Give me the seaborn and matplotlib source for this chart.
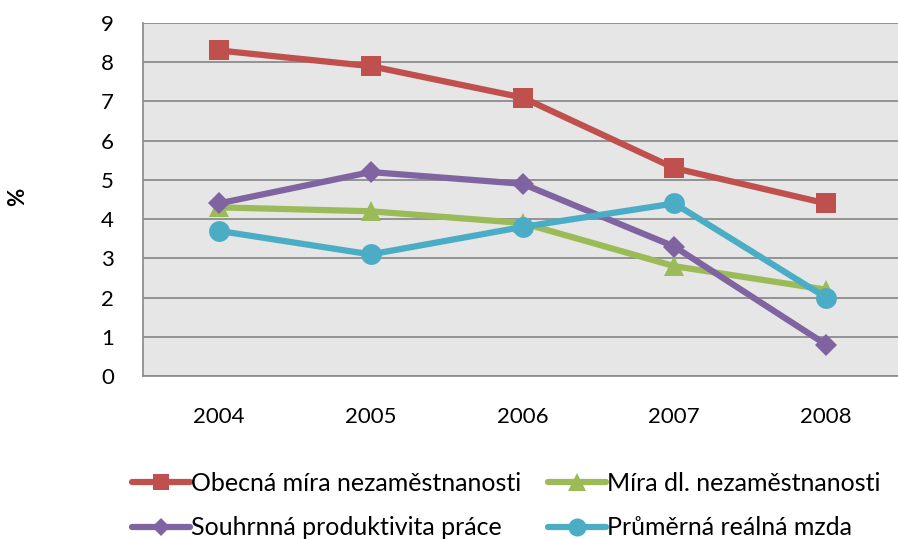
import pandas as pd
import matplotlib.pyplot as plt
import seaborn as sns

# --- Data ---
YEARS = ["2004", "2005", "2006", "2007", "2008"]
OBECNA = [8.3, 7.9, 7.1, 5.3, 4.4]
MIRA_DL = [4.3, 4.2, 3.9, 2.8, 2.2]
PRODUKTIVITA = [4.4, 5.2, 4.9, 3.3, 0.8]
MZDA = [3.7, 3.1, 3.8, 4.4, 2.0]

SERIES = [
    ("Obecná míra nezaměstnanosti", OBECNA, "#C0504D", "s", 14),
    ("Míra dl. nezaměstnanosti", MIRA_DL, "#9BBB59", "^", 15),
    ("Souhrnná produktivita práce", PRODUKTIVITA, "#8064A2", "D", 11),
    ("Průměrná reálná mzda", MZDA, "#4BACC6", "o", 15),
]

sns.set_theme(style="white")
plt.rcParams['font.family'] = ['Lato', 'DejaVu Sans']
plt.rcParams['text.color'] = 'black'
plt.rcParams['xtick.color'] = 'black'
plt.rcParams['ytick.color'] = 'black'

rows = []
for name, vals, _, _, _ in SERIES:
    for i, (yr, v) in enumerate(zip(YEARS, vals)):
        rows.append({"pos": i, "year": yr, "value": v, "series": name})
df = pd.DataFrame(rows)

names = [s[0] for s in SERIES]
palette = {s[0]: s[2] for s in SERIES}
markers = {s[0]: s[3] for s in SERIES}

LW = 4.5

fig = plt.figure(figsize=(8.98, 5.39), dpi=100)
ax = fig.add_axes([143 / 898, 1 - 376 / 539, (902 - 143) / 898, (376 - 23) / 539])
ax.set_facecolor("#E6E6E6")

sns.lineplot(data=df, x="pos", y="value", hue="series", style="series",
             hue_order=names, style_order=names, palette=palette,
             markers=markers, dashes=False, linewidth=LW,
             markeredgewidth=0, ax=ax, legend=False)
# per-series marker sizes
for line, (_, _, _, _, ms) in zip(ax.get_lines(), SERIES):
    line.set_markersize(ms)

ax.set_xlim(-0.5, 4.5)
ax.set_ylim(0, 9)
ax.set_yticks(range(10))
ax.set_xticks(range(5))
ax.set_xticklabels(YEARS)
ax.set_xticks([i - 0.5 for i in range(6)], minor=True)
ax.grid(axis="y", color="#8C8C8C", linewidth=1.3)
ax.set_axisbelow(True)
for side in ["top", "right"]:
    ax.spines[side].set_visible(False)
ax.spines["left"].set_color("#8C8C8C")
ax.spines["bottom"].set_color("#8C8C8C")
ax.tick_params(axis="x", which="major", length=0, labelsize=16, pad=22)
ax.tick_params(axis="x", which="minor", length=7, color="#8C8C8C", direction="out")
ax.tick_params(axis="y", length=7, color="#8C8C8C", labelcolor="black",
               direction="out", labelsize=16, pad=14)
ax.set_xlabel("")
ax.set_ylabel("")
fig.text(18 / 898, 1 - 197 / 539, "%", rotation=90, fontsize=16,
         fontweight="bold", ha="center", va="center")

handles = [plt.Line2D([], [], color=c, marker=m, linewidth=LW, markersize=ms - 2,
                      markeredgewidth=0) for _, _, c, m, ms in SERIES]
order = [0, 2, 1, 3]
fig.legend([handles[i] for i in order], [names[i] for i in order],
           loc="upper left", bbox_to_anchor=(122 / 898, 1 - 462 / 539), ncol=2,
           frameon=False, fontsize=18, handlelength=2.3, handletextpad=0.05,
           columnspacing=1.1, labelspacing=0.85, borderaxespad=0)

plt.savefig("out.png", dpi=100)
